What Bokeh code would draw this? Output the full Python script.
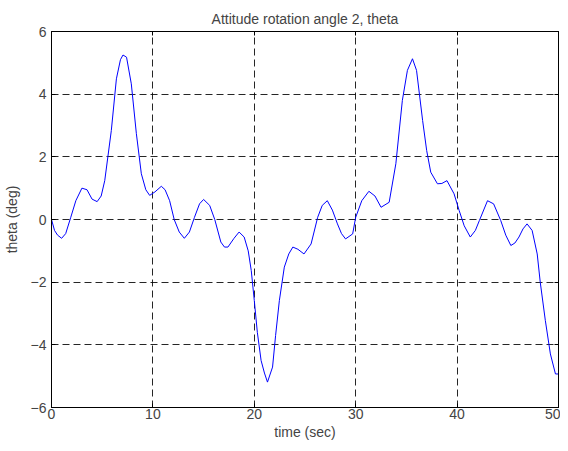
from bokeh.plotting import figure
from bokeh.models import LinearAxis, Range1d, FixedTicker
from bokeh.embed import file_html
from bokeh.resources import INLINE

# time (sec) and theta (deg)
t = [0.0, 0.3, 0.6, 1.0, 1.4, 1.9, 2.4, 3.0, 3.5, 4.0, 4.5, 4.9, 5.25, 5.9, 6.4, 6.8, 7.05, 7.4,
     7.87, 8.37, 8.86, 9.3, 9.68, 10.2, 10.83, 11.2, 11.65, 12.1, 12.6, 13.1, 13.6, 14.1, 14.6, 15.0,
     15.6, 16.1, 16.7, 17.06, 17.4, 18.0, 18.5, 19.0, 19.4, 19.7, 20.0, 20.3, 20.67, 21.0, 21.3,
     21.8, 22.1, 22.47, 22.96, 23.4, 23.8, 24.3, 24.9, 25.6, 26.25, 26.7, 27.2, 27.7, 28.2, 28.6,
     29.0, 29.7, 30.0, 30.6, 31.3, 31.9, 32.5, 33.3, 33.96, 34.6, 35.1, 35.6, 36.0, 36.6, 37.0,
     37.4, 38.06, 38.5, 39.0, 39.7, 40.2, 40.7, 41.3, 41.8, 42.2, 43.0, 43.6, 44.3, 44.8, 45.3,
     45.7, 46.1, 46.5, 46.9, 47.4, 47.9, 48.2, 48.7, 49.2, 49.7, 50.0]
theta = [0.0, -0.35, -0.5, -0.6, -0.45, 0.07, 0.6, 1.0, 0.95, 0.65, 0.57, 0.75, 1.24, 2.84, 4.49,
         5.1, 5.25, 5.18, 4.33, 2.74, 1.46, 0.95, 0.77, 0.88, 1.06, 0.95, 0.6, 0.0, -0.4, -0.6,
         -0.4, 0.07, 0.5, 0.64, 0.45, 0.0, -0.72, -0.88, -0.88, -0.6, -0.4, -0.56, -1.0, -1.63,
         -2.59, -3.6, -4.5, -4.9, -5.19, -4.71, -3.7, -2.59, -1.52, -1.1, -0.88, -0.95, -1.1, -0.78,
         0.07, 0.45, 0.6, 0.3, -0.14, -0.45, -0.62, -0.46, 0.07, 0.6, 0.9, 0.75, 0.39, 0.55, 1.78,
         3.8, 4.76, 5.13, 4.76, 3.16, 2.2, 1.51, 1.14, 1.15, 1.24, 0.82, 0.29, -0.2, -0.56, -0.35,
         -0.03, 0.6, 0.5, -0.03, -0.5, -0.83, -0.75, -0.56, -0.3, -0.14, -0.35, -1.1, -2.0, -3.22,
         -4.29, -4.93, -4.93]

x_ticks = [0, 10, 20, 30, 40, 50]
y_ticks = [-6, -4, -2, 0, 2, 4, 6]

FONT = "Liberation Sans"
FS = "14px"

p = figure(width=560, height=443, output_backend="svg", toolbar_location=None,
           x_range=Range1d(0, 50), y_range=Range1d(-6, 6),
           title="Attitude rotation angle 2, theta",
           x_axis_label="time (sec)", y_axis_label="theta (deg)")
p.min_border_left = 50
p.min_border_right = 2
p.min_border_top = 31
p.min_border_bottom = 36

p.title.align = "center"
p.title.text_font = FONT
p.title.text_font_size = FS
p.title.text_font_style = "normal"
p.title.offset = 0
p.title.standoff = 9

p.line(t, theta, line_color="#0000ff", line_width=1)

for ax in (p.xaxis[0], p.yaxis[0]):
    ax.axis_label_text_font = FONT
    ax.axis_label_text_font_size = FS
    ax.axis_label_text_font_style = "normal"
    ax.major_label_text_font = FONT
    ax.major_label_text_font_size = FS
    ax.major_tick_in = 4
    ax.major_tick_out = 0
    ax.minor_tick_line_color = None
    ax.axis_line_color = "black"
    ax.major_tick_line_color = "black"
p.xaxis[0].ticker = FixedTicker(ticks=x_ticks)
p.yaxis[0].ticker = FixedTicker(ticks=y_ticks)
p.xaxis[0].major_label_standoff = 1
p.yaxis[0].major_label_standoff = 5
p.xaxis[0].axis_label_standoff = 2
p.yaxis[0].axis_label_standoff = 8

for loc, ticks in (("above", x_ticks), ("right", y_ticks)):
    a = LinearAxis(ticker=FixedTicker(ticks=ticks),
                   major_label_overrides={v: "" for v in ticks},
                   major_label_text_font_size="1px",
                   major_tick_in=4, major_tick_out=0, minor_tick_line_color=None,
                   axis_line_color="black", major_label_standoff=0)
    p.add_layout(a, loc)

p.xgrid.ticker = FixedTicker(ticks=x_ticks)
p.ygrid.ticker = FixedTicker(ticks=y_ticks)
for g in (p.xgrid[0], p.ygrid[0]):
    g.grid_line_color = "black"
    g.grid_line_alpha = 0.85
    g.grid_line_dash = "7 4"
    g.grid_line_width = 1

p.outline_line_color = "black"
p.background_fill_color = "white"
p.border_fill_color = "white"

open("out.html", "w").write(file_html(p, INLINE))
